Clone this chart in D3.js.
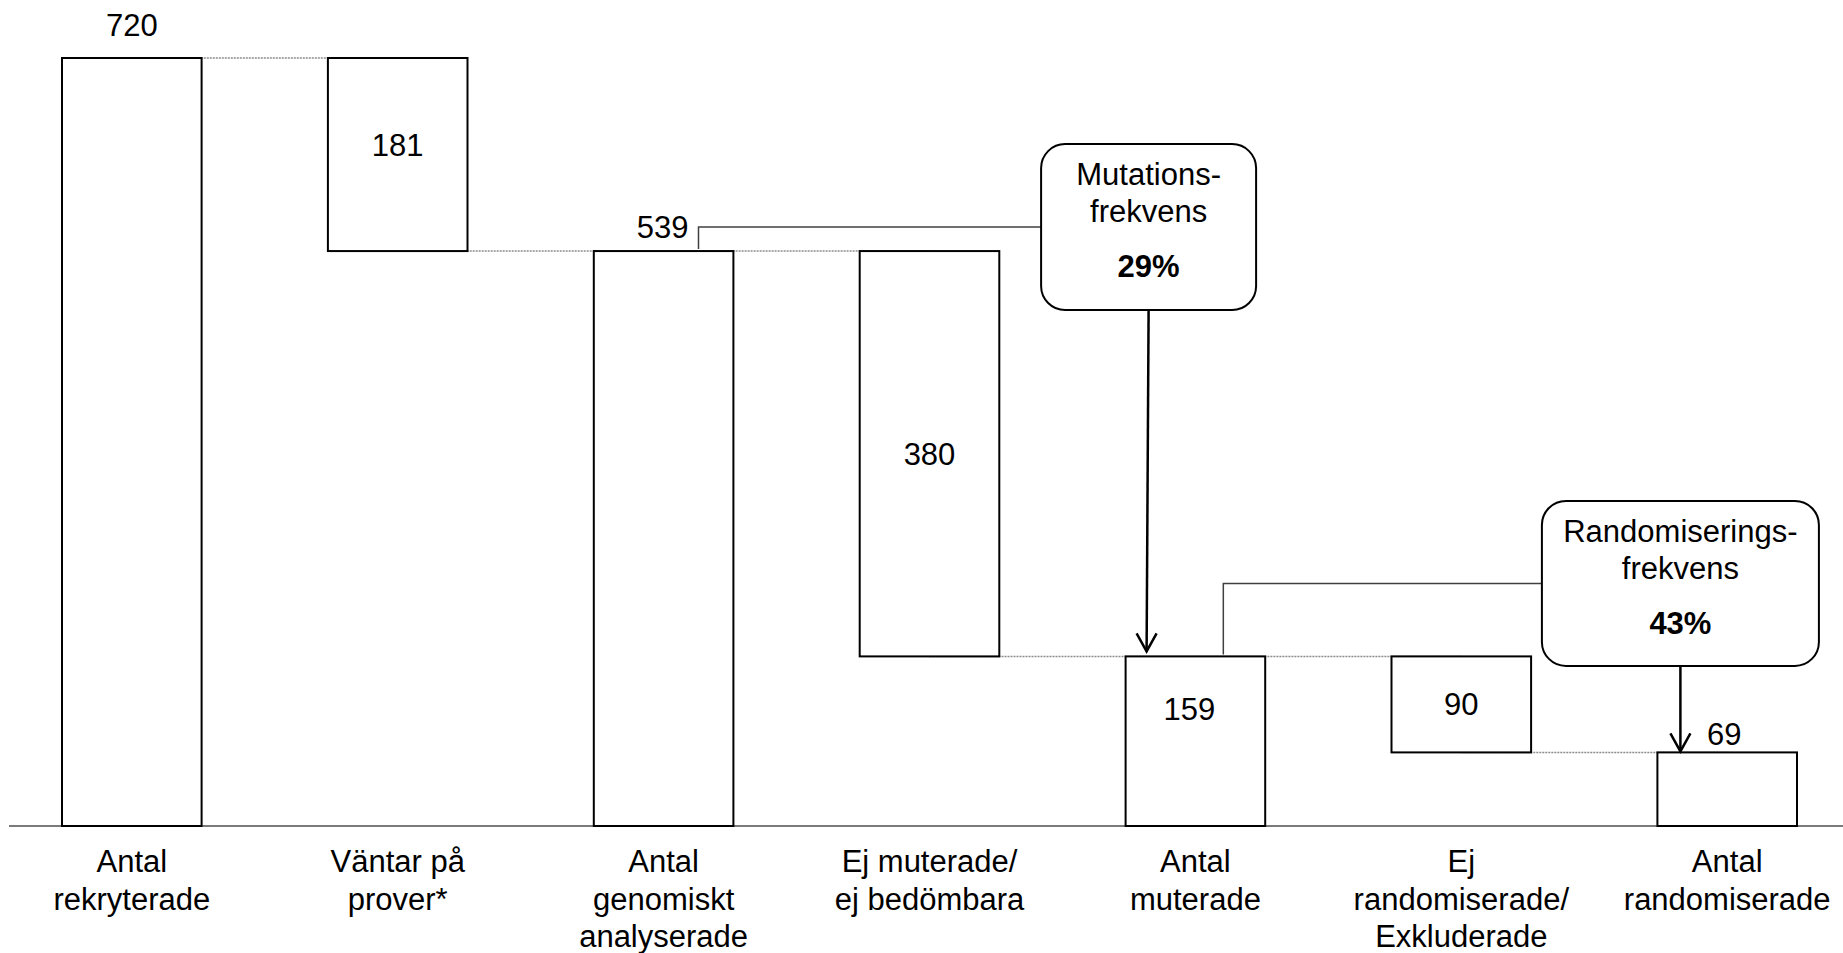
<!DOCTYPE html>
<html lang="sv">
<head>
<meta charset="utf-8">
<title>Rekrytering och randomisering</title>
<script src="https://cdn.jsdelivr.net/npm/d3@7/dist/d3.min.js"></script>
<style>
  html, body { margin: 0; padding: 0; background: #fff; }
  svg { display: block; }
  text { font-family: "Liberation Sans", Arial, Helvetica, sans-serif; fill: #000; }
</style>
</head>
<body>
<svg id="chart" width="1843" height="953"></svg>
<script>
// Steps of the flow, from recruited patients to randomised patients
const categories = [
  ["Antal", "rekryterade"],
  ["Väntar på", "prover*"],
  ["Antal", "genomiskt", "analyserade"],
  ["Ej muterade/", "ej bedömbara"],
  ["Antal", "muterade"],
  ["Ej", "randomiserade/", "Exkluderade"],
  ["Antal", "randomiserade"]
];
const values = [720, 181, 539, 380, 159, 90, 69];
// "total" bars stand on the baseline, "step" bars hang down from the previous total
const barKinds = ["total", "step", "total", "step", "total", "step", "total"];

// Frequencies shown in the call-out boxes
const rateTitles = [["Mutations-", "frekvens"], ["Randomiserings-", "frekvens"]];
const rateValues = [29, 43];
// Each rate: denominator bar index, numerator bar index
const rateFrom = [2, 4];
const rateTo = [4, 6];

const W = 1843, H = 953;
const svg = d3.select("#chart");

const x = d3.scaleBand()
  .domain(d3.range(values.length))
  .range([62, 1797])
  .paddingInner(0.475)
  .paddingOuter(0);
const bw = x.bandwidth();

const y = d3.scaleLinear().domain([0, 720]).range([826, 58]);

// Waterfall extents
let level = 0;
const bars = values.map((v, i) => {
  let lo, hi;
  if (barKinds[i] === "total") { lo = 0; hi = v; level = v; }
  else { hi = level; lo = level - v; level = lo; }
  return { i, v, lo, hi, kind: barKinds[i] };
});

// Level at which bar i hands over to bar i+1
const handover = bars.slice(0, -1).map(b => b.kind === "total" ? b.hi : b.lo);

const cx = i => x(i) + bw / 2;

// Dotted links between neighbouring bars
svg.append("g")
  .selectAll("line")
  .data(handover)
  .join("line")
  .attr("x1", (d, i) => cx(i))
  .attr("x2", (d, i) => cx(i + 1))
  .attr("y1", d => y(d))
  .attr("y2", d => y(d))
  .attr("stroke", "#8c8c8c")
  .attr("stroke-width", 1.5)
  .attr("stroke-dasharray", "2,1");

// Baseline
const axis = d3.axisBottom(x).tickSize(0).tickFormat("");
const axisG = svg.append("g").attr("transform", `translate(0,${y(0)})`).call(axis);
axisG.select(".domain").remove();
axisG.append("line")
  .attr("x1", 9).attr("x2", W)
  .attr("y1", 0).attr("y2", 0)
  .attr("stroke", "#7a7a7a")
  .attr("stroke-width", 2);

// Category labels under the baseline
axisG.selectAll(".tick").each(function (d) {
  const t = d3.select(this).append("text")
    .attr("text-anchor", "middle")
    .attr("font-size", 31)
    .attr("y", 46);
  categories[d].forEach((line, k) => {
    t.append("tspan").attr("x", 0).attr("y", 46 + k * 37.5).text(line);
  });
});

// Bars
svg.append("g")
  .selectAll("rect")
  .data(bars)
  .join("rect")
  .attr("x", d => x(d.i))
  .attr("y", d => y(d.hi))
  .attr("width", bw)
  .attr("height", d => y(d.lo) - y(d.hi))
  .attr("fill", "#fff")
  .attr("stroke", "#000")
  .attr("stroke-width", 2);

// Value labels
const labelG = svg.append("g").attr("font-size", 31);
bars.forEach(b => {
  const top = y(b.hi), bot = y(b.lo);
  let lx = cx(b.i), ly, anchor = "middle";
  if (b.kind === "step") {
    const f = b.i === 1 ? 0.45 : 0.5;
    ly = top + f * (bot - top) + 11;
  } else if (b.i === 0) {
    ly = top - 22;
  } else if (b.i === 2) {
    lx = x(b.i) + 0.75 * bw - 10; anchor = "end"; ly = top - 13;
  } else if (b.i === 4) {
    lx = cx(b.i) - 6; ly = top + 64;
  } else {
    lx = cx(b.i) - 3; ly = top - 7;
  }
  labelG.append("text")
    .attr("x", lx).attr("y", ly)
    .attr("text-anchor", anchor)
    .text(b.v);
});

// Call-out boxes with frequencies
const boxSizes = [{ w: 215, h: 166 }, { w: 277, h: 165 }];
const leaderX = [0.75, 0.70];
const leaderRise = [24, 73];
const arrowGap = [5, 1];

rateValues.forEach((rate, k) => {
  const src = bars[rateFrom[k]], dst = bars[rateTo[k]];
  const g = svg.append("g");
  const lxp = x(src.i) + leaderX[k] * bw;
  const ly0 = y(src.hi);
  const ly1 = ly0 - leaderRise[k];
  const bcx = x(dst.i) + 23;
  const box = boxSizes[k];
  const bx = bcx - box.w / 2, by = ly1 - box.h / 2;

  // leader from the denominator bar to the box
  g.append("path")
    .attr("d", `M${lxp},${ly0 - 2}V${ly1}H${bx}`)
    .attr("fill", "none")
    .attr("stroke", "#404040")
    .attr("stroke-width", 1.5);

  g.append("rect")
    .attr("x", bx).attr("y", by)
    .attr("width", box.w).attr("height", box.h)
    .attr("rx", 24).attr("ry", 24)
    .attr("fill", "#fff")
    .attr("stroke", "#000")
    .attr("stroke-width", 2);

  const t = g.append("text").attr("text-anchor", "middle").attr("font-size", 31);
  rateTitles[k].forEach((line, j) => {
    t.append("tspan").attr("x", bcx).attr("y", by + 41 + j * 37).text(line);
  });
  g.append("text")
    .attr("x", bcx).attr("y", by + 133)
    .attr("text-anchor", "middle")
    .attr("font-size", 31)
    .attr("font-weight", "bold")
    .text(`${rate}%`);

  // arrow down to the numerator bar
  const tipX = bcx - (k === 0 ? 2 : 0);
  const tipY = y(dst.hi) - arrowGap[k];
  g.append("line")
    .attr("x1", bcx).attr("y1", by + box.h)
    .attr("x2", tipX).attr("y2", tipY)
    .attr("stroke", "#000").attr("stroke-width", 2.5);
  g.append("path")
    .attr("d", `M${tipX - 10},${tipY - 18}L${tipX},${tipY}L${tipX + 10},${tipY - 18}`)
    .attr("fill", "none")
    .attr("stroke", "#000")
    .attr("stroke-width", 2.5);
});
</script>
</body>
</html>
